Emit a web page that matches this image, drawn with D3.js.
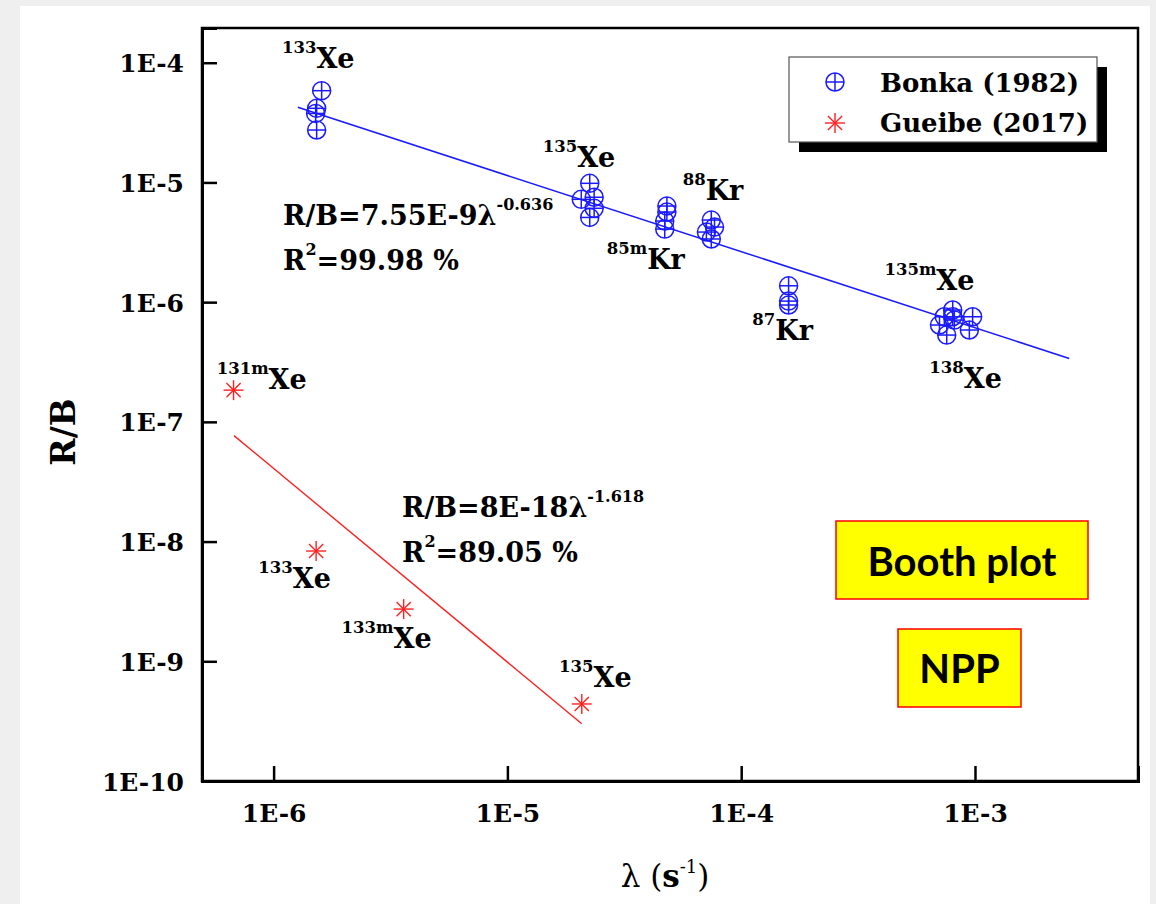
<!DOCTYPE html>
<html><head><meta charset="utf-8">
<script src="https://cdn.jsdelivr.net/npm/d3@7/dist/d3.min.js"></script>
<style>
html,body{margin:0;padding:0;background:#efefef;}
svg{display:block;}
</style></head>
<body>
<script>
// ---------- DATA ----------
const bonkaLambda = [1.605e-6,1.528e-6,1.513e-6,1.528e-6,
  2.25e-5,2.07e-5,2.35e-5,2.35e-5,2.25e-5,
  4.81e-5,4.81e-5,4.71e-5,4.71e-5,
  7.45e-5,7.69e-5,7.10e-5,7.45e-5,
  1.595e-4,1.595e-4,1.595e-4,
  8.03e-4,7.39e-4,8.03e-4,8.16e-4,7.05e-4,7.57e-4,9.77e-4,9.46e-4];
const bonkaRB = [5.84e-5,4.16e-5,3.77e-5,2.74e-5,
  9.83e-6,7.23e-6,7.52e-6,6.08e-6,5.10e-6,
  6.35e-6,5.66e-6,4.76e-6,4.08e-6,
  4.85e-6,4.24e-6,3.85e-6,3.37e-6,
  1.37e-6,1.02e-6,9.46e-7,
  8.6e-7,7.55e-7,7.55e-7,7.08e-7,6.44e-7,5.31e-7,7.55e-7,5.85e-7];
const gueibeLambda = [6.74e-7,1.52e-6,3.60e-6,2.08e-5];
const gueibeRB = [1.84e-7,8.34e-9,2.73e-9,4.4e-10];

const fitBonka = {a:7.55e-9, b:-0.636, from:1.27e-6, to:2.53e-3};
const fitGueibe = {a:8e-18, b:-1.618, from:6.77e-7, to:2.08e-5};

const yTicks = [1e-10,1e-9,1e-8,1e-7,1e-6,1e-5,1e-4];
const yTickLabels = ["1E-10","1E-9","1E-8","1E-7","1E-6","1E-5","1E-4"];
const xTicks = [1e-6,1e-5,1e-4,1e-3];
const xTickLabels = ["1E-6","1E-5","1E-4","1E-3"];

// isotope labels: mass number, element, anchor (lambda, R/B)
const labelMass = ["133","135","88","85m","87","135m","138","131m","133","133m","135"];
const labelElem = ["Xe","Xe","Kr","Kr","Kr","Xe","Xe","Xe","Xe","Xe","Xe"];
const labelLambda = [1.086e-6,1.416e-5,5.62e-5,2.66e-5,1.115e-4,4.10e-4,6.38e-4,5.71e-7,8.6e-7,1.954e-6,1.663e-5];
const labelRB = [8.98e-5,1.35e-5,7.13e-6,1.91e-6,4.82e-7,1.26e-6,1.905e-7,1.87e-7,4.06e-9,1.28e-9,6.12e-10];

const legendNames = ["Bonka (1982)","Gueibe (2017)"];

// ---------- DRAW ----------
const W=1156,H=904;
const svg = d3.select("body").append("svg").attr("width",W).attr("height",H);
svg.append("rect").attr("x",20).attr("y",6).attr("width",1130).attr("height",H-6).attr("fill","#fff");

const L=202,R=1138,T=28,B=781;
const x = d3.scaleLog().domain([4.94e-7,4.98e-3]).range([L,R]);
const y = d3.scaleLog().domain([1e-10,1.95e-4]).range([B,T]);

const serif = "'DejaVu Serif', 'Liberation Serif', serif";
const blue = "#1a1aff", red = "#ff2020";

// frame
svg.append("rect").attr("x",L).attr("y",T).attr("width",R-L).attr("height",B-T)
  .attr("fill","none").attr("stroke","#000").attr("stroke-width",2.5);

// y axis
const yAxis = d3.axisLeft(y).tickValues(yTicks).tickSize(-15).tickFormat((d,i)=>yTickLabels[i]).tickPadding(18);
const gy = svg.append("g").attr("transform",`translate(${L},0)`).call(yAxis);
gy.select(".domain").attr("stroke","#000").attr("stroke-width",3);
gy.selectAll(".tick line").attr("stroke","#000").attr("stroke-width",2.5);
gy.selectAll(".tick text").attr("font-family",serif).attr("font-weight","bold").attr("font-size",25).attr("fill","#000").attr("dy","0.36em");

// x axis
const xAxis = d3.axisBottom(x).tickValues(xTicks).tickSize(-15).tickFormat((d,i)=>xTickLabels[i]).tickPadding(23);
const gx = svg.append("g").attr("transform",`translate(0,${B})`).call(xAxis);
gx.select(".domain").attr("stroke","#000").attr("stroke-width",3);
gx.selectAll(".tick line").attr("stroke","#000").attr("stroke-width",2.5);
gx.selectAll(".tick text").attr("font-family",serif).attr("font-weight","bold").attr("font-size",25).attr("fill","#000").attr("dy","0.71em");

// axis titles
svg.append("text").attr("transform",`translate(75,432) rotate(-90)`).attr("text-anchor","middle")
  .attr("font-family",serif).attr("font-weight","bold").attr("font-size",33).text("R/B");
const xt = svg.append("text").attr("x",665).attr("y",887).attr("text-anchor","middle")
  .attr("font-family",serif).attr("font-size",31);
xt.append("tspan").text("λ (");
xt.append("tspan").attr("font-weight","bold").text("s");
xt.append("tspan").attr("font-size",18).attr("dy",-14).text("-1");
xt.append("tspan").attr("dy",14).text(")");

// fit lines
function fitLine(f,color,w){
  const pts=[f.from,f.to].map(l=>[x(l),y(f.a*Math.pow(l,f.b))]);
  svg.append("path").attr("d",d3.line()(pts)).attr("stroke",color).attr("stroke-width",w).attr("fill","none");
}
fitLine(fitBonka,blue,1.5);
fitLine(fitGueibe,red,1.4);

// markers
function circlePlus(g,cx,cy,r){
  g.append("circle").attr("cx",cx).attr("cy",cy).attr("r",r).attr("fill","none").attr("stroke",blue).attr("stroke-width",1.5);
  g.append("line").attr("x1",cx-r).attr("x2",cx+r).attr("y1",cy).attr("y2",cy).attr("stroke",blue).attr("stroke-width",1.5);
  g.append("line").attr("x1",cx).attr("x2",cx).attr("y1",cy-r).attr("y2",cy+r).attr("stroke",blue).attr("stroke-width",1.5);
}
function star(g,cx,cy,r){
  for(let k=0;k<4;k++){
    const a=k*Math.PI/4;
    g.append("line").attr("x1",cx-r*Math.cos(a)).attr("y1",cy-r*Math.sin(a))
      .attr("x2",cx+r*Math.cos(a)).attr("y2",cy+r*Math.sin(a)).attr("stroke",red).attr("stroke-width",1.4);
  }
}
const gb = svg.append("g");
bonkaLambda.forEach((l,i)=>circlePlus(gb,x(l),y(bonkaRB[i]),9));
const gg = svg.append("g");
gueibeLambda.forEach((l,i)=>star(gg,x(l),y(gueibeRB[i]),10));

// isotope labels
labelMass.forEach((m,i)=>{
  const t = svg.append("text").attr("x",x(labelLambda[i])).attr("y",y(labelRB[i])).attr("font-family",serif).attr("fill","#000");
  t.append("tspan").attr("font-size",16.5).attr("font-weight",600).attr("dy",-15).text(m);
  t.append("tspan").attr("font-size",27).attr("font-weight","bold").attr("dy",15).text(labelElem[i]);
});

// equations
function equation(px,py,coef,exp,r2){
  const t=svg.append("text").attr("x",px).attr("y",py).attr("font-family",serif).attr("font-weight","bold").attr("font-size",27);
  t.append("tspan").text("R/B="+coef+"λ");
  t.append("tspan").attr("font-size",16).attr("dy",-15).text(exp);
  const t2=svg.append("text").attr("x",px).attr("y",py+45).attr("font-family",serif).attr("font-weight","bold").attr("font-size",27);
  t2.append("tspan").text("R");
  t2.append("tspan").attr("font-size",16).attr("dy",-15).text("2");
  t2.append("tspan").attr("dy",15).text("="+r2);
}
equation(283,225,"7.55E-9","-0.636","99.98 %");
equation(402,517,"8E-18","-1.618","89.05 %");

// legend
const lg = svg.append("g");
lg.append("rect").attr("x",799).attr("y",67).attr("width",308).attr("height",85).attr("fill","#000");
lg.append("rect").attr("x",789).attr("y",57).attr("width",308).attr("height",85).attr("fill","#fff").attr("stroke","#555").attr("stroke-width",1.2);
circlePlus(lg,835,82,9);
star(lg,835,123,10);
legendNames.forEach((n,i)=>{
  lg.append("text").attr("x",880).attr("y",92+i*40).attr("font-family",serif).attr("font-weight","bold").attr("font-size",26).text(n);
});

// yellow boxes
function ybox(x0,y0,w,h,txt,fs,by){
  svg.append("rect").attr("x",x0).attr("y",y0).attr("width",w).attr("height",h).attr("fill","#ffff00").attr("stroke","#ff0000").attr("stroke-width",1.5);
  svg.append("text").attr("x",x0+w/2).attr("y",by).attr("text-anchor","middle").attr("font-family","Lato, 'Open Sans', sans-serif")
    .attr("font-weight","bold").attr("font-size",fs).text(txt);
}
ybox(836,521,252,78,"Booth plot",40,576);
ybox(898,629,123,78,"NPP",40,683);
</script>
</body></html>
